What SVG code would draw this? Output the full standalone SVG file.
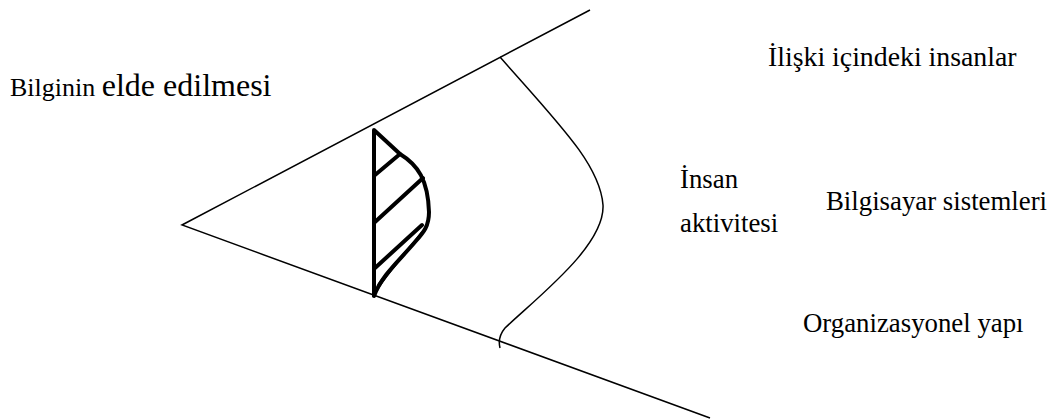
<svg xmlns="http://www.w3.org/2000/svg" width="1056" height="419" viewBox="0 0 1056 419">
<style>
.t{font-family:"Liberation Serif","Times New Roman","DejaVu Serif",serif;fill:#000;font-size:26.8px}
.thin{fill:none;stroke:#000;stroke-width:1.5}
.thick{fill:none;stroke:#000;stroke-width:4;stroke-linejoin:round;stroke-linecap:round}
</style>
<rect width="1056" height="419" fill="#fff"/>
<g id="connectors">
<path class="thin" d="M590,10 L182,225 L710,418"/>
<path class="thin" d="M500,57 C560,125 600,165 603,205 C605,245 540,295 505,328 C500,334 498,340 500,348"/>
</g>
<g id="hatched">
<path class="thick" d="M374,296 L374,130 L400,154 C418,165 428,180 429,212 C429,226 424,232 415,242 C398,262 382,275 374,296"/>
<path class="thick" d="M375,175 L400,154 M375,222 L423,178 M375,268 L422,225"/>
<path fill="none" stroke="#000" stroke-width="2" d="M376,292 C385,275 405,255 420,235 M378,285 C390,268 410,248 422,232"/>
</g>
<g id="labels">
<text class="t" x="10" y="96"><tspan font-size="26">Bilginin </tspan><tspan font-size="32">elde edilmesi</tspan></text>
<text class="t" x="768" y="66" style="font-size:27.8px">İlişki içindeki insanlar</text>
<text class="t" x="680" y="188">İnsan</text>
<text class="t" x="680" y="232">aktivitesi</text>
<text class="t" x="826" y="210">Bilgisayar sistemleri</text>
<text class="t" x="803" y="332">Organizasyonel yapı</text>
</g>
</svg>
